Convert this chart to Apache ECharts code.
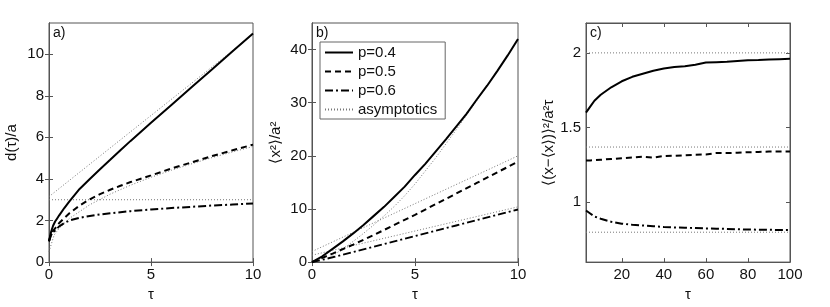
<!DOCTYPE html>
<html><head><meta charset="utf-8">
<script src="https://cdn.jsdelivr.net/npm/echarts@6/dist/echarts.min.js"></script>
<style>html,body{margin:0;padding:0;background:#fff}#c{width:830px;height:307px}</style>
</head><body><div id="c"></div>
<script>
// ---- Panel a: d(tau)/a ----
const tauA = [0,0.1,0.2,0.3,0.4,0.5,0.75,1,1.5,2,2.5,3,3.5,4,5,6,7,8,9,10];
const dA_p04 = [1.0,1.45,1.75,1.95,2.1,2.25,2.6,2.92,3.52,4.0,4.47,4.92,5.38,5.83,6.7,7.56,8.42,9.28,10.14,11.0];
const dA_p05 = [1.0,1.35,1.5,1.62,1.75,1.88,2.12,2.35,2.72,3.02,3.27,3.48,3.67,3.85,4.17,4.5,4.8,5.1,5.38,5.65];
const dA_p06 = [1.0,1.3,1.42,1.52,1.62,1.72,1.88,2.0,2.13,2.22,2.29,2.35,2.4,2.45,2.53,2.6,2.66,2.72,2.77,2.82];
const tauAsymA1 = [0,10];
const asymA1 = [3.15,10.95];
const tauAsymA2 = [0,0.25,0.5,1,2,3,4,5,6,7,8,9,10];
const asymA2 = [0.5,1.3,1.63,2.1,2.76,3.27,3.7,4.08,4.42,4.73,5.03,5.3,5.56];
const asymA3 = [3,3];
// ---- Panel b: <x^2>/a^2 ----
const tauB = [0,0.5,1,1.5,2,2.5,3,3.5,4,4.5,5,5.5,6,6.5,7,7.5,8,8.5,9,9.5,10];
const x2_p04 = [0,1.1,2.5,3.9,5.4,7.0,8.7,10.4,12.3,14.2,16.4,18.5,20.8,23.1,25.5,27.9,30.6,33.2,36.0,38.9,42.0];
const tauB2 = [0,0.5,1,2,3,4,5,6,7,8,9,10];
const x2_p05 = [0,0.8,1.6,3.3,5.1,7.0,8.9,10.9,12.9,14.9,16.9,18.9];
const x2_p06 = [0,0.45,0.9,1.9,2.9,3.9,4.9,5.9,6.9,7.9,8.9,9.9];
const tauAsymB1 = [1,1.5,2,2.5,3,3.5,4,4.5,5,6,7,8,9,10];
const asymB1 = [1.2,2.5,3.9,5.4,7.0,8.7,10.5,12.5,14.7,19.6,24.9,30.4,36.0,41.8];
const tauAsymB = [0,10];
const asymB2 = [2.0,20.0];
const asymB3 = [1.3,10.4];
// ---- Panel c: variance / a^2 tau ----
const tauC = [3,5,7,10,15,20,25,30,35,40,45,50,55,60,65,70,75,80,85,90,95,100];
const varC_p04 = [1.60,1.64,1.68,1.72,1.77,1.81,1.84,1.86,1.88,1.895,1.905,1.91,1.92,1.935,1.938,1.94,1.945,1.95,1.952,1.955,1.958,1.96];
const varC_p05 = [1.28,1.28,1.282,1.285,1.29,1.295,1.30,1.305,1.30,1.31,1.312,1.315,1.318,1.32,1.33,1.33,1.332,1.335,1.337,1.34,1.34,1.34];
const varC_p06 = [0.945,0.925,0.905,0.89,0.87,0.857,0.85,0.845,0.84,0.835,0.832,0.83,0.828,0.825,0.824,0.822,0.82,0.818,0.817,0.816,0.815,0.815];
const tauAsymC = [3,100];
const asymC1 = [2,2];
const asymC2 = [1.37,1.37];
const asymC3 = [0.8,0.8];
// ---- ticks ----
const ticksXab = [0,5,10];
const ticksYa = [0,2,4,6,8,10];
const ticksYb = [0,10,20,30,40];
const ticksXc = [20,40,60,80,100];
const ticksYc = [1,1.5,2];
const seriesNames = ['p=0.4','p=0.5','p=0.6','asymptotics'];

const FONT = "'Liberation Sans', Arial, Helvetica, sans-serif";
const pairs = (xs, ys) => xs.map((x, i) => [x, ys[i]]);
const styles = {
  solid: {type:'solid', width:2, color:'#000'},
  dashed: {type:[6,4], width:2, color:'#000'},
  dashdot: {type:[8,3,2,3], width:2, color:'#000'},
  dotted: {type:[1,2], width:1, color:'#777'}
};
function line(name, xs, ys, st, g) {
  return {name, type:'line', xAxisIndex:g*2, yAxisIndex:g*2, data:pairs(xs, ys),
    showSymbol:false, symbol:'none', smooth:false, silent:true,
    lineStyle:styles[st], itemStyle:{color:styles[st].color}, animation:false, z: st==='dotted'?2:3};
}
const grids = [
  {left:49, top:23, width:204, height:242},
  {left:312, top:23, width:206, height:242},
  {left:586, top:23, width:204, height:242}
];
const AX = '#555';
const axisCommon = {
  axisLine:{show:true, lineStyle:{color:AX, width:1}},
  splitLine:{show:false},
  axisTick:{inside:true, length:4, lineStyle:{color:AX}},
  axisLabel:{color:'#111', fontSize:15, fontFamily:FONT},
  nameTextStyle:{color:'#111', fontSize:15, fontFamily:FONT}
};
function xAx(g, min, max, ticks) {
  return [
    Object.assign({}, axisCommon, {type:'value', gridIndex:g, position:'bottom', min, max,
      name:'τ', nameLocation:'middle', nameGap:20,
      axisTick:Object.assign({}, axisCommon.axisTick, {customValues:ticks}),
      axisLabel:Object.assign({}, axisCommon.axisLabel, {customValues:ticks, margin:5})}),
    Object.assign({}, axisCommon, {type:'value', gridIndex:g, position:'top', min, max,
      axisTick:Object.assign({}, axisCommon.axisTick, {customValues:ticks}),
      axisLabel:{show:false}})
  ];
}
function yAx(g, min, max, ticks, name, gap) {
  return [
    Object.assign({}, axisCommon, {type:'value', gridIndex:g, position:'left', min, max,
      name, nameLocation:'middle', nameGap:gap, nameRotate:90,
      axisTick:Object.assign({}, axisCommon.axisTick, {customValues:ticks}),
      axisLabel:Object.assign({}, axisCommon.axisLabel, {customValues:ticks, margin:5})}),
    Object.assign({}, axisCommon, {type:'value', gridIndex:g, position:'right', min, max,
      axisTick:Object.assign({}, axisCommon.axisTick, {customValues:ticks}),
      axisLabel:{show:false}})
  ];
}
const xAxis = [].concat(xAx(0,0,10,ticksXab), xAx(1,0,10,ticksXab), xAx(2,3,100,ticksXc));
const yAxis = [].concat(yAx(0,0,11.5,ticksYa,'d(τ)/a',30), yAx(1,0,45,ticksYb,'⟨x²⟩/a²',29), yAx(2,0.6,2.2,ticksYc,'⟨(x−⟨x⟩)⟩²/a²τ',26));

const series = [
  line('asymptotics', tauAsymA1, asymA1, 'dotted', 0),
  line('asymptotics', tauAsymA2, asymA2, 'dotted', 0),
  line('asymptotics', tauAsymA1, asymA3, 'dotted', 0),
  line('p=0.4', tauA, dA_p04, 'solid', 0),
  line('p=0.5', tauA, dA_p05, 'dashed', 0),
  line('p=0.6', tauA, dA_p06, 'dashdot', 0),
  line('p=0.4', tauB, x2_p04, 'solid', 1),
  line('p=0.5', tauB2, x2_p05, 'dashed', 1),
  line('p=0.6', tauB2, x2_p06, 'dashdot', 1),
  line('asymptotics', tauAsymB1, asymB1, 'dotted', 1),
  line('asymptotics', tauAsymB, asymB2, 'dotted', 1),
  line('asymptotics', tauAsymB, asymB3, 'dotted', 1),
  line('asymptotics', tauAsymC, asymC1, 'dotted', 2),
  line('asymptotics', tauAsymC, asymC2, 'dotted', 2),
  line('asymptotics', tauAsymC, asymC3, 'dotted', 2),
  line('p=0.4', tauC, varC_p04, 'solid', 2),
  line('p=0.5', tauC, varC_p05, 'dashed', 2),
  line('p=0.6', tauC, varC_p06, 'dashdot', 2)
];
const chart = echarts.init(document.getElementById('c'), null, {renderer:'canvas'});
chart.setOption({
  animation:false,
  backgroundColor:'#fff',
  grid: grids.map(g => Object.assign({show:true, borderColor:AX, borderWidth:1, backgroundColor:'transparent'}, g)),
  xAxis, yAxis, series,
  legend: {data:seriesNames, orient:'vertical', left:320, top:42, itemWidth:28, itemHeight:12, itemGap:4,
    padding:[3,8,2,4], borderColor:'#666', borderWidth:1, backgroundColor:'#fff', selectedMode:false,
    itemStyle:{color:'rgba(0,0,0,0)', borderColor:'rgba(0,0,0,0)', borderWidth:0, opacity:0},
    textStyle:{fontSize:15, color:'#111', fontFamily:FONT}},
  graphic: [
    {type:'text', left:53, top:26, style:{text:'a)', fontSize:14, fontFamily:FONT, fill:'#111'}},
    {type:'text', left:316, top:26, style:{text:'b)', fontSize:14, fontFamily:FONT, fill:'#111'}},
    {type:'text', left:590, top:26, style:{text:'c)', fontSize:14, fontFamily:FONT, fill:'#111'}}
  ]
});
</script></body></html>
